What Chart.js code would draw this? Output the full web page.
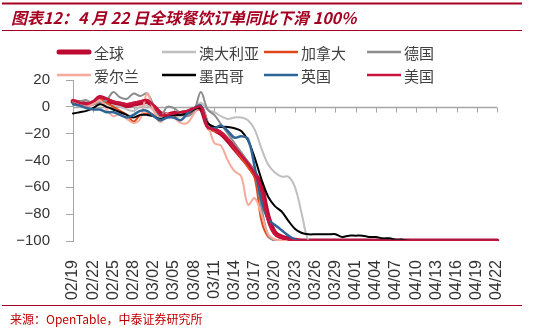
<!DOCTYPE html>
<html>
<head>
<meta charset="utf-8">
<script src="https://cdn.jsdelivr.net/npm/chart.js@4.4.1/dist/chart.umd.min.js"></script>
<style>
  html, body { margin: 0; padding: 0; background: #fff; }
  canvas { display: block; }
</style>
</head>
<body>
<canvas id="chart" width="540" height="331"></canvas>
<script>
// Daily dates, 2020-02-19 .. 2020-04-22
const dates = [
  "02/19","02/20","02/21","02/22","02/23","02/24","02/25","02/26","02/27","02/28","02/29",
  "03/01","03/02","03/03","03/04","03/05","03/06","03/07","03/08","03/09","03/10",
  "03/11","03/12","03/13","03/14","03/15","03/16","03/17","03/18","03/19","03/20",
  "03/21","03/22","03/23","03/24","03/25","03/26","03/27","03/28","03/29","03/30","03/31",
  "04/01","04/02","04/03","04/04","04/05","04/06","04/07","04/08","04/09","04/10",
  "04/11","04/12","04/13","04/14","04/15","04/16","04/17","04/18","04/19","04/20","04/21","04/22"
];

// Year-over-year change in seated diners (%)
const globalVals = [
  4,3,2,3,7,5,3,2,1,2,3,4,0,-5,-6,-5,-5,-4,-2,-1,
  -14,-17,-20,-25,-31,-37,-43,-50,-60,-82,-94,-97,-98.5,-99.5,-100,
  -100,-100,-100,-100,-100,-100,-100,-100,-100,-100,-100,-100,-100,-100,-100,
  -100,-100,-100,-100,-100,-100,-100,-100,-100,-100,-100,-100,-100,-100
];
const australiaVals = [
  2,0,1,2,4,2,1,0,-2,-3,0,1,-3,-8,-6,-8,-7,-5,-1,3,
  -2,-4,-7,-9,-8,-8,-10,-17,-31,-43,-49,-52,-52,-60,-80,-100,
  -100,-100,-100,-100,-100,-100,-100,-100,-100,-100,-100,-100,-100,-100,
  -100,-100,-100,-100,-100,-100,-100,-100,-100,-100,-100,-100,-100,-100
];
const canadaVals = [
  4,2,1,3,6,3,0,-3,-6,-11,-6,-5,-6,-11,-5,-7,-5,-3,-1,1,
  -16,-18,-19,-24,-31,-38,-45,-53,-85,-97,-99,
  -100,-100,-100,-100,-100,-100,-100,-100,-100,-100,-100,-100,-100,-100,-100,-100,-100,
  -100,-100,-100,-100,-100,-100,-100,-100,-100,-100,-100,-100,-100,-100,-100,-100
];
const germanyVals = [
  4,4,5,2,3,5,11,7,6,10,8,10,1,-7,0,-1,-5,-7,-3,11,
  -2,-6,-13,-20,-27,-34,-41,-48,-75,-96,-100,
  -100,-100,-100,-100,-100,-100,-100,-100,-100,-100,-100,-100,-100,-100,-100,-100,-100,
  -100,-100,-100,-100,-100,-100,-100,-100,-100,-100,-100,-100,-100,-100,-100,-100
];
const irelandVals = [
  5,2,1,2,5,-2,-7,-5,-9,-12,-9,10,-3,-11,-5,-8,-12,-12,-5,0,
  -12,-27,-29,-40,-48,-52,-73,-68,-80,-95,-99,-100,
  -100,-100,-100,-100,-100,-100,-100,-100,-100,-100,-100,-100,-100,-100,-100,-100,
  -100,-100,-100,-100,-100,-100,-100,-100,-100,-100,-100,-100,-100,-100,-100,-100
];
const mexicoVals = [
  -5,-4,-3,-1,2,0,-2,-4,-6,-8,-6,-6,-7,-9,-7,-6,-6,-5,-2,-1,
  -12,-15,-15,-15,-16,-18,-25,-38,-54,-67,-74,-78,-85,-91,-94,-95,-95,-95,-95,-95,
  -97,-96,-96,-96,-97,-97,-98,-98,-99,-99,
  -100,-100,-100,-100,-100,-100,-100,-100,-100,-100,-100,-100,-100,-100
];
const ukVals = [
  2,1,-1,-2,-2,-4,-4,-6,-8,-6,-3,-3,-7,-10,-8,-8,-10,-5,-1,1,
  -15,-16,-14,-18,-23,-22,-24,-45,-70,-84,-88,-92,-96,-99,-100,
  -100,-100,-100,-100,-100,-100,-100,-100,-100,-100,-100,-100,-100,-100,-100,
  -100,-100,-100,-100,-100,-100,-100,-100,-100,-100,-100,-100,-100,-100
];
const usVals = [
  5,3,2,4,7,6,4,3,2,3,4,5,1,-6,-6,-5,-4,-3,-1,0,
  -15,-17,-19,-24,-30,-36,-42,-50,-62,-85,-95,-97,-99,-100,
  -100,-100,-100,-100,-100,-100,-100,-100,-100,-100,-100,-100,-100,-100,-100,
  -100,-100,-100,-100,-100,-100,-100,-100,-100,-100,-100,-100,-100,-100,-100
];

const seriesNames = ["全球","澳大利亚","加拿大","德国","爱尔兰","墨西哥","英国","美国"];
const seriesData = [globalVals, australiaVals, canadaVals, germanyVals, irelandVals, mexicoVals, ukVals, usVals];
const seriesColors = ["#BE0A30","#BFBFBF","#E0481C","#8C8C8C","#F7A99A","#000000","#2E6496","#C8143E"];
const seriesWidths = [5, 2, 2, 2, 2, 2, 2.5, 2.5];

const titleText = "图表12：4 月 22 日全球餐饮订单同比下滑 100%";
const sourceText = "来源：OpenTable，中泰证券研究所";

const DARK_RED = "#A50021";
const AXIS_GREY = "#A6A6A6";
const CJK = '"Noto Sans CJK SC", "Liberation Sans", sans-serif';
const LATIN = '"Liberation Sans", Arial, sans-serif';

const datasets = seriesNames.map((name, i) => ({
  label: name,
  data: seriesData[i],
  borderColor: seriesColors[i],
  backgroundColor: seriesColors[i],
  borderWidth: seriesWidths[i],
  pointRadius: 0,
  tension: 0.35,
  fill: false,
  borderCapStyle: 'round',
  borderJoinStyle: 'round',
  order: seriesNames.length - i   // first series painted underneath
}));

const everyThird = scale => { scale.ticks = scale.ticks.filter(t => t.value % 3 === 0); };

// Page frame: rules, title, legend grid, zero line with tick marks, source note
const framePlugin = {
  id: 'frame',
  beforeDraw(chart) {
    const ctx = chart.ctx;
    ctx.save();
    ctx.fillStyle = '#fff';
    ctx.fillRect(0, 0, chart.width, chart.height);
    ctx.restore();
  },
  beforeDatasetsDraw(chart) {
    const ctx = chart.ctx;
    const xs = chart.scales.x, ys = chart.scales.y;
    const y0 = Math.round(ys.getPixelForValue(0)) + 0.5;
    ctx.save();
    ctx.strokeStyle = AXIS_GREY;
    ctx.lineWidth = 1.5;
    ctx.beginPath();
    ctx.moveTo(chart.chartArea.left, y0);
    ctx.lineTo(chart.chartArea.right, y0);
    ctx.stroke();
    ctx.lineWidth = 1;
    xs.ticks.forEach((t, i) => {
      const px = Math.round(xs.getPixelForTick(i)) + 0.5;
      if (i === 0) return;
      ctx.beginPath();
      ctx.moveTo(px, y0);
      ctx.lineTo(px, y0 + 5);
      ctx.stroke();
    });
    ctx.restore();
  },
  afterDraw(chart) {
    const ctx = chart.ctx;
    ctx.save();
    // top rule + title + rule under title
    ctx.strokeStyle = DARK_RED;
    ctx.lineWidth = 2;
    ctx.beginPath(); ctx.moveTo(2, 3.5); ctx.lineTo(522, 3.5); ctx.stroke();
    ctx.lineWidth = 1;
    ctx.beginPath(); ctx.moveTo(2, 30.5); ctx.lineTo(522, 30.5); ctx.stroke();
    ctx.fillStyle = DARK_RED;
    ctx.font = 'italic bold 16px ' + CJK;
    ctx.textBaseline = 'middle';
    ctx.textAlign = 'left';
    ctx.fillText(titleText, 11, 18);

    // legend, 4 columns x 2 rows
    const colX = [57, 162, 264, 367];
    const rowY = [52, 75];
    ctx.font = '15px ' + CJK;
    chart.data.datasets.forEach((ds, i) => {
      const cx = colX[i % 4], cy = rowY[Math.floor(i / 4)];
      ctx.strokeStyle = ds.borderColor;
      ctx.lineWidth = i === 0 ? 5 : 2.5;
      ctx.lineCap = i === 0 ? 'round' : 'butt';
      ctx.beginPath();
      ctx.moveTo(cx + (i === 0 ? 2 : 0), cy);
      ctx.lineTo(cx + 34 - (i === 0 ? 2 : 0), cy);
      ctx.stroke();
      ctx.fillStyle = '#404040';
      ctx.fillText(ds.label, cx + 37, cy + 1);
    });

    // source rule + note
    ctx.strokeStyle = DARK_RED;
    ctx.lineWidth = 1;
    ctx.beginPath(); ctx.moveTo(2, 305.5); ctx.lineTo(522, 305.5); ctx.stroke();
    ctx.fillStyle = '#C00000';
    ctx.font = '12px ' + CJK;
    ctx.fillText(sourceText, 10, 319);
    ctx.restore();
  }
};

new Chart(document.getElementById('chart'), {
  type: 'line',
  data: { labels: dates, datasets },
  options: {
    responsive: false,
    animation: false,
    events: [],
    layout: { padding: { top: 80, right: 43, bottom: 25, left: 0 } },
    plugins: { legend: { display: false }, title: { display: false }, tooltip: { enabled: false } },
    scales: {
      x: {
        type: 'category',
        offset: false,
        afterBuildTicks: everyThird,
        afterFit: s => { s.height = 65; },
        grid: { display: false },
        border: { display: false },
        ticks: {
          autoSkip: false, minRotation: 90, maxRotation: 90, padding: 11,
          color: '#333', font: { family: LATIN, size: 16 }
        }
      },
      y: {
        min: -100, max: 20,
        afterFit: s => { s.width = 73; },
        grid: { drawOnChartArea: false, drawTicks: true, tickLength: 7, color: AXIS_GREY },
        border: { display: true, color: AXIS_GREY, width: 1 },
        ticks: {
          stepSize: 20, padding: 16, color: '#333', font: { family: LATIN, size: 15 },
          callback: v => String(v).replace('-', '\u2212')
        }
      }
    }
  },
  plugins: [framePlugin]
});
</script>
</body>
</html>
